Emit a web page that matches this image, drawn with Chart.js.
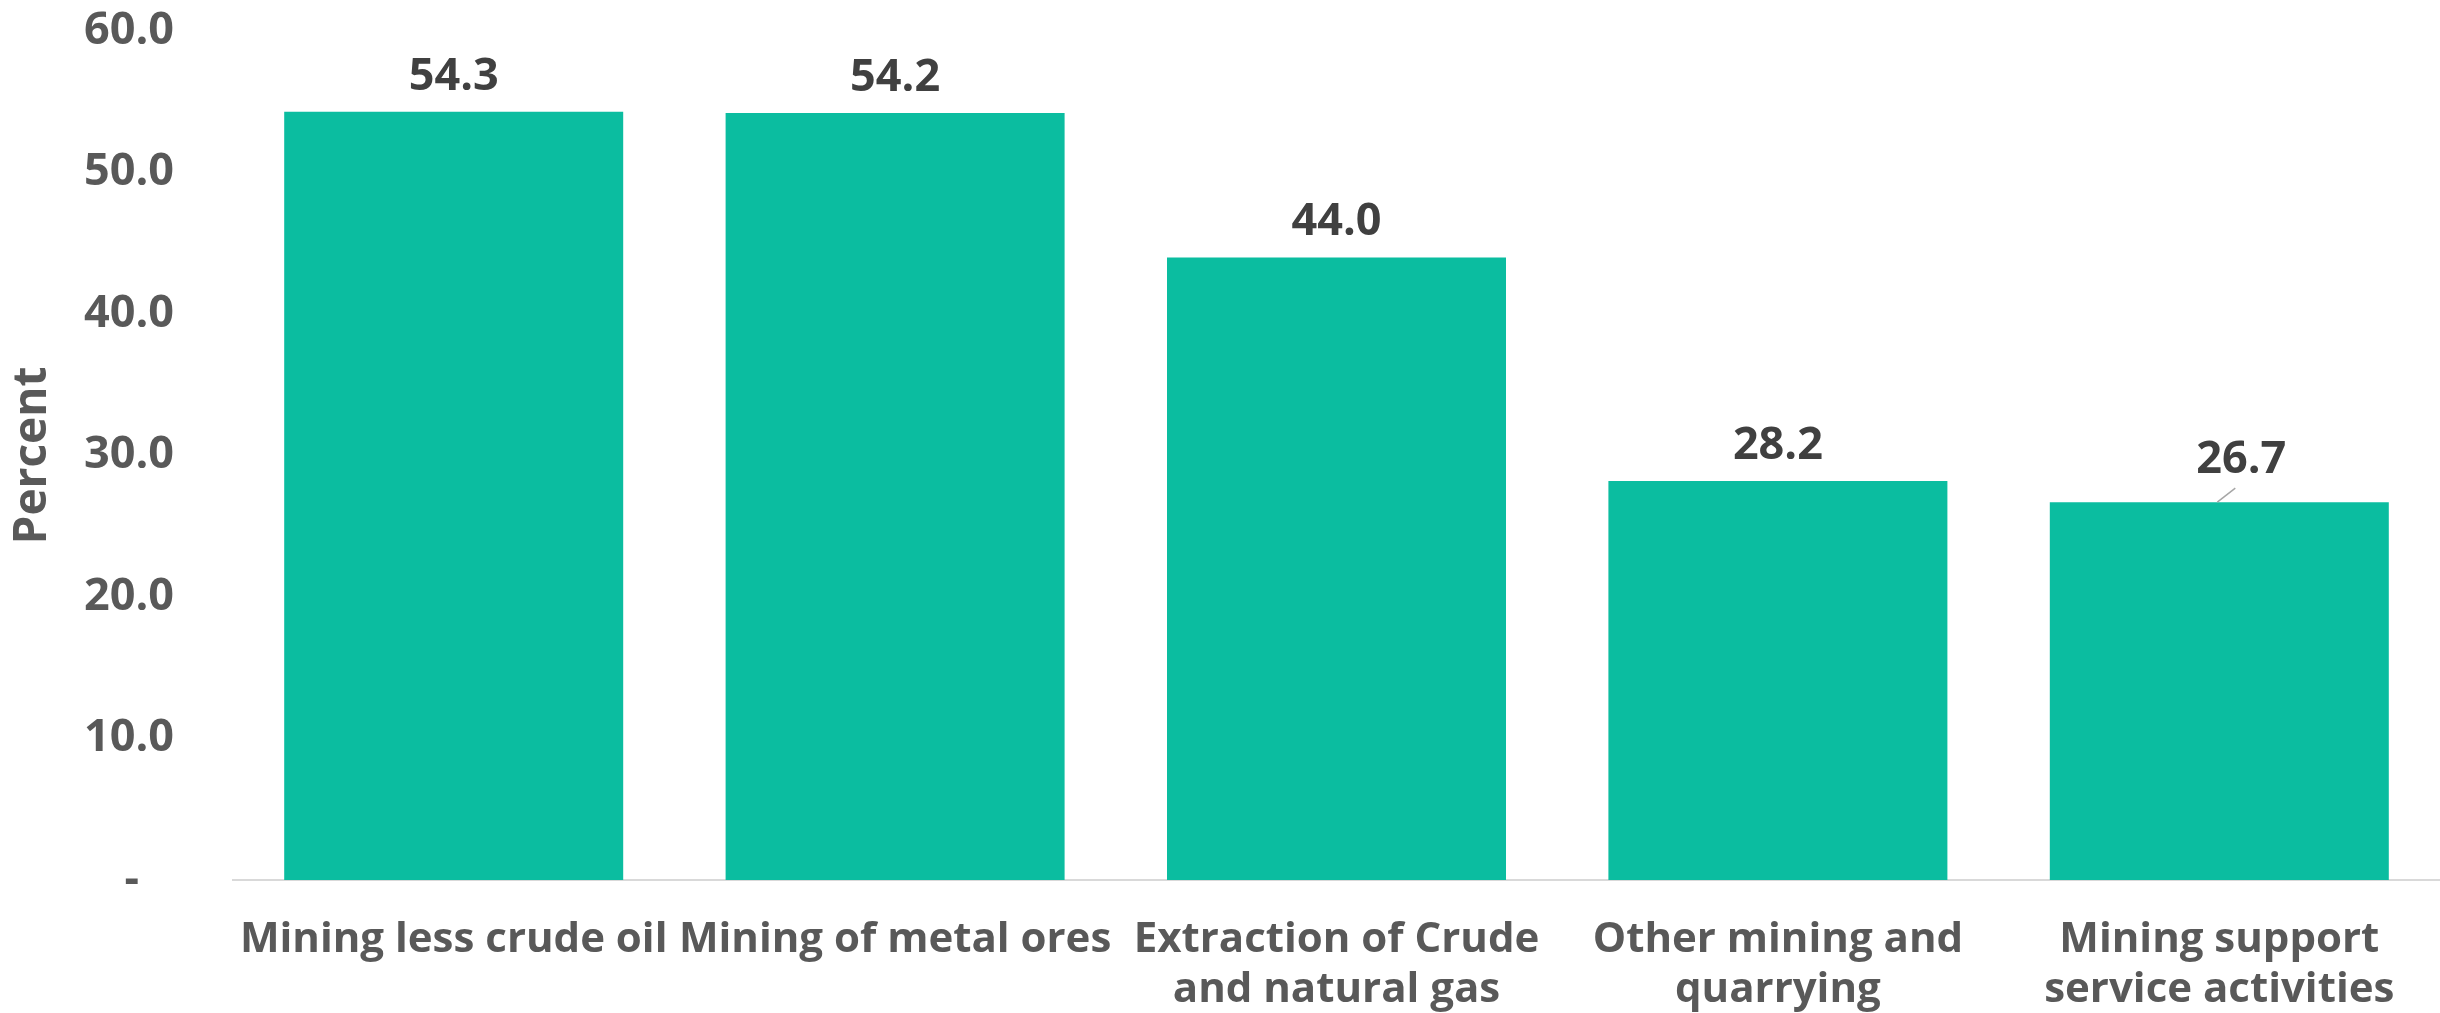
<!DOCTYPE html>
<html>
<head>
<meta charset="utf-8">
<script src="https://cdn.jsdelivr.net/npm/chart.js@4.4.1/dist/chart.umd.min.js"></script>
<style>
  html, body { margin: 0; padding: 0; background: #ffffff; }
  #wrap { width: 2440px; height: 1013px; }
</style>
</head>
<body>
<div id="wrap"><canvas id="c" width="2440" height="1013"></canvas></div>
<script>
// ---- data ----
const categories = [
  'Mining less crude oil',
  'Mining of metal ores',
  ['Extraction of Crude', 'and natural gas'],
  ['Other mining and', 'quarrying'],
  ['Mining support', 'service activities']
];
const values = [54.3, 54.2, 44.0, 28.2, 26.7];
const yTicks = [0, 10, 20, 30, 40, 50, 60];
const yTitle = 'Percent';

// ---- styles ----
const BAR_COLOR = '#0BBDA0';
const AXIS_TEXT = '#595959';
const LABEL_TEXT = '#404040';
const FONT = "'Open Sans', 'DejaVu Sans', sans-serif";

// data label plugin (value above each bar)
const valueLabels = {
  id: 'valueLabels',
  afterDatasetsDraw(chart, args, opts) {
    const ctx = chart.ctx;
    const meta = chart.getDatasetMeta(0);
    ctx.save();
    ctx.font = 'bold 45px ' + FONT;
    ctx.fillStyle = LABEL_TEXT;
    ctx.textAlign = 'center';
    ctx.textBaseline = 'alphabetic';
    meta.data.forEach((bar, i) => {
      const v = chart.data.datasets[0].data[i];
      const off = (opts.shift && opts.shift[i]) || [0, 0];
      const x = bar.x + off[0];
      const y = bar.y - 22 + off[1];
      ctx.fillText(v.toFixed(1), x, y);
      if (off[0] !== 0 || off[1] !== 0) {
        ctx.strokeStyle = '#A6A6A6';
        ctx.lineWidth = 1.5;
        ctx.beginPath();
        ctx.moveTo(bar.x - 2, bar.y);
        ctx.lineTo(bar.x + 16, bar.y - 14);
        ctx.stroke();
      }
    });
    ctx.restore();
  }
};

new Chart(document.getElementById('c'), {
  type: 'bar',
  data: {
    labels: categories,
    datasets: [{
      data: values,
      backgroundColor: BAR_COLOR,
      borderWidth: 0,
      barPercentage: 0.768,
      categoryPercentage: 1.0
    }]
  },
  options: {
    responsive: false,
    devicePixelRatio: 1,
    animation: false,
    layout: { padding: { top: 31, right: 0, bottom: 0, left: 0 } },
    plugins: {
      legend: { display: false },
      tooltip: { enabled: false },
      valueLabels: { shift: { 4: [22, -7] } }
    },
    scales: {
      x: {
        grid: { display: false },
        border: { display: true, color: '#D9D9D9', width: 2 },
        ticks: {
          color: AXIS_TEXT,
          font: { family: FONT, size: 42, weight: 'bold', lineHeight: '50px' },
          padding: 27,
          maxRotation: 0,
          autoSkip: false
        },
        afterFit: s => { s.height = 133; s.paddingLeft = 0; s.paddingRight = 0; }
      },
      y: {
        min: 0,
        max: 60,
        grid: { display: false, drawTicks: false },
        border: { display: false },
        afterBuildTicks: s => { s.ticks = yTicks.map(v => ({ value: v })); },
        ticks: {
          color: AXIS_TEXT,
          font: { family: FONT, size: 45, weight: 'bold' },
          padding: 59,
          callback: v => (v === 0 ? '-   ' : v.toFixed(1))
        },
        title: {
          display: true,
          text: yTitle,
          color: AXIS_TEXT,
          font: { family: FONT, size: 46, weight: 'bold' },
          padding: { top: 5, bottom: 0 }
        },
        afterFit: s => { s.width = 233; s.paddingTop = 0; s.paddingBottom = 0; }
      }
    }
  },
  plugins: [valueLabels]
});
</script>
</body>
</html>
